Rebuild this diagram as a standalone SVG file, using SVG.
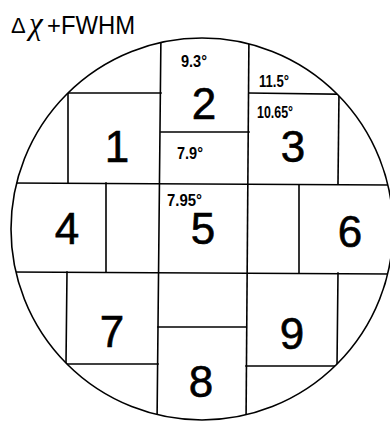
<svg xmlns="http://www.w3.org/2000/svg" width="390" height="421" viewBox="0 0 390 421">
<style>
.ln{stroke:#000;stroke-width:1.6;fill:none;stroke-linecap:square}
.num{font-family:"Liberation Sans",Arial,sans-serif;font-size:44px;fill:#000;stroke:#000;stroke-width:0.6;text-anchor:middle}
.lab{font-family:"Liberation Sans",Arial,sans-serif;font-size:17px;font-weight:bold;fill:#000}
</style>
<defs>
<clipPath id="wafer"><circle cx="202" cy="229" r="191"/></clipPath>
</defs>
<rect width="390" height="421" fill="#fff"/>
<g id="title">
<text x="11" y="33" font-family="Liberation Sans,Arial,sans-serif" font-size="22" fill="#000">Δ</text>
<text x="29" y="34" font-family="Liberation Serif,serif" font-style="italic" font-size="31" fill="#000">χ</text>
<text x="47" y="34" font-family="Liberation Sans,Arial,sans-serif" font-size="25" fill="#000" textLength="88" lengthAdjust="spacingAndGlyphs">+FWHM</text>
</g>
<g id="grid" clip-path="url(#wafer)">
<line class="ln" x1="161" y1="30" x2="157" y2="425"/>
<line class="ln" x1="249" y1="30" x2="246" y2="425"/>
<line class="ln" x1="68" y1="93" x2="68" y2="183"/>
<line class="ln" x1="339" y1="93" x2="338" y2="184"/>
<line class="ln" x1="106" y1="183" x2="106" y2="272"/>
<line class="ln" x1="299" y1="185" x2="299" y2="273"/>
<line class="ln" x1="67" y1="272" x2="66" y2="364"/>
<line class="ln" x1="338" y1="273" x2="337" y2="366"/>
<line class="ln" x1="50" y1="93" x2="161" y2="93"/>
<line class="ln" x1="161" y1="132" x2="249" y2="132"/>
<line class="ln" x1="249" y1="93" x2="400" y2="95"/>
<line class="ln" x1="0" y1="183" x2="400" y2="185"/>
<line class="ln" x1="0" y1="272" x2="400" y2="274"/>
<line class="ln" x1="158" y1="327" x2="246" y2="327"/>
<line class="ln" x1="0" y1="364" x2="158" y2="364"/>
<line class="ln" x1="246" y1="366" x2="400" y2="366"/>
</g>
<circle class="ln" cx="202" cy="229" r="191" stroke-width="1.8"/>
<g id="cell1"><text class="num" x="117" y="162">1</text></g>
<g id="cell2"><text class="lab" x="181" y="67" textLength="26" lengthAdjust="spacingAndGlyphs">9.3°</text><text class="num" x="204" y="119">2</text></g>
<g id="cell2b"><text class="lab" x="177" y="159" textLength="26" lengthAdjust="spacingAndGlyphs">7.9°</text></g>
<g id="cell3a"><text class="lab" x="259" y="87" textLength="30" lengthAdjust="spacingAndGlyphs">11.5°</text></g>
<g id="cell3"><text class="lab" x="257" y="118" textLength="36" lengthAdjust="spacingAndGlyphs">10.65°</text><text class="num" x="293" y="162">3</text></g>
<g id="cell4"><text class="num" x="67" y="244">4</text></g>
<g id="cell5"><text class="lab" x="167" y="206" textLength="35" lengthAdjust="spacingAndGlyphs">7.95°</text><text class="num" x="203" y="244">5</text></g>
<g id="cell6"><text class="num" x="350" y="247">6</text></g>
<g id="cell7"><text class="num" x="112" y="347">7</text></g>
<g id="cell8"><text class="num" x="201" y="397">8</text></g>
<g id="cell9"><text class="num" x="292" y="349">9</text></g>
</svg>
